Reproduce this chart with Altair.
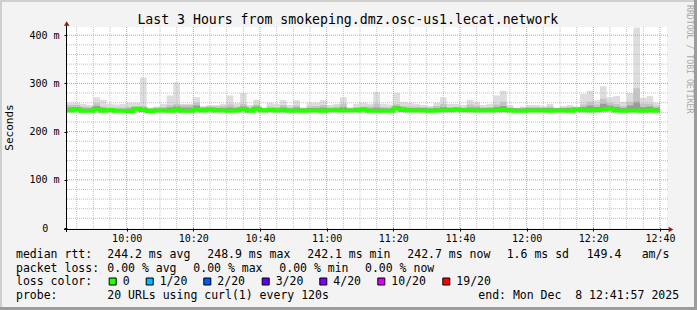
import altair as alt
import pandas as pd

FONT = "DejaVu Sans Mono"

# ---- data (minutes after midnight, 120 s smokeping steps) ----
t_first = 582          # 09:42, start of first step
step_min = 2
max_rtt = [260,260,257,255,271,266,257,256,257,260,260,312,250,252,257,275,302,257,257,271,252,255,255,
           257,275,259,280,255,266,250,260,257,265,255,265,250,260,260,265,255,257,271,250,258,260,
           258,282,258,256,280,262,260,258,255,253,260,271,257,257,255,266,262,255,257,275,285,255,250,
           252,255,255,253,257,250,253,255,252,278,285,265,294,271,274,262,280,416,270,274,260]
med_rtt = [244,247,243.5,243.5,247,243.5,245,243,243,242.5,247.5,245,242.5,244,244,243,245.5,243,243,245.5,244,246,244,
           244,243,244,247,243,247.5,244,245,244,244.5,243,244,243,244,244,243,244.5,244.5,244,244,244,245.5,
           243.5,243,243,243.5,248,245,244,244,244,243,244,244.5,244.5,245.5,244.5,244.5,244,244,244,244.5,245,244,243.5,
           243.5,244,244,244,243.5,244,244,243.5,246,244.5,244,244.5,245.5,247.5,244,243,244,244,243.5,244.5,243.5]
min_rtt = [241,242,240,240.5,242,240.5,241.5,240,240,239.5,242.5,241.5,239.5,241,241,240,242,240,240,242,241,242,241,
           241,240,241,243,240,243,241,241.5,241,241.5,240,241,240,241,241,240,241.5,241.5,241,241,241,242,
           240.5,240,240,240.5,244,242,241,241,241,240,241,241.5,241.5,242,241.5,241.5,241,241,241,241.5,242,241,240.5,
           240.5,241,241,241,240.5,241,241,240.5,242.5,241.5,241,241.5,242,243.5,241,240,241,240,240.5,241.5,240.5]
upper2 = [255,255,252,251,259,252,250,250,250,251,252,253,249,250,251,255,257,255,255,260,252,252,252,
          253,256,252,257,250,256,249,252,251,255,250,254,249,252,253,255,250,252,258,249,251,252,
          252,258,251,250,257,253,252,252,251,250,253,257,251,251,250,256,254,250,251,256,262,250,249,
          250,251,251,250,252,249,250,251,250,256,262,256,268,260,257,253,262,290,258,258,253]
upper3 = [250,251,248,248,253,249,248,247,247,248,251,250,247,248,248,250,252,250,250,254,249,250,249,
          249,250,249,252,248,252,248,249,248,250,248,250,248,249,249,250,248,249,251,248,249,250,
          248,250,248,248,253,250,249,249,249,248,249,251,249,250,249,250,250,249,249,251,253,249,248,
          248,249,249,249,249,248,249,249,250,251,254,251,258,254,251,249,254,262,251,252,249]

major_times = [600, 620, 640, 660, 680, 700, 720, 740, 760]
minor_times = [m for m in range(585, 762, 5) if m not in major_times]
major_vals = [0, 100, 200, 300, 400]
minor_vals = [v for v in range(20, 401, 20) if v % 100 != 0]

loss_labels = ["0", "1/20", "2/20", "3/20", "4/20", "10/20", "19/20"]
loss_colors = ["#26ff00", "#00b8ff", "#0059ff", "#5e00ff", "#7e00ff", "#dd00ff", "#ff0000"]

n = len(max_rtt)
starts = [t_first + step_min * k for k in range(n)]
smoke = pd.DataFrame({
    "t": starts + [starts[-1] + step_min],
    "lo": min_rtt + [min_rtt[-1]],
    "hi": max_rtt + [max_rtt[-1]],
    "med": med_rtt + [med_rtt[-1]],
    "q2": upper2 + [upper2[-1]],
    "q3": upper3 + [upper3[-1]],
})

# ---- layout ----
PL, PT, W, H = 67, 27, 600, 201
xs = alt.Scale(domain=[582.1, 762.1], nice=False, zero=False)
ys = alt.Scale(domain=[0, 417], nice=False)

xaxis = alt.Axis(values=major_times, title=None, grid=False, domain=False, tickSize=3,
                 tickColor="black", labelFont=FONT, labelFontSize=10, labelColor="black",
                 labelPadding=2, labelFlush=False, labelOverlap=False,
                 labelExpr="floor(datum.value/60) + ':' + (datum.value % 60 < 10 ? '0' : '') + (datum.value % 60)")
yaxis = alt.Axis(values=major_vals, title=None, grid=False, domain=False, tickSize=3,
                 tickColor="black", labelFont=FONT, labelFontSize=10, labelColor="black",
                 labelPadding=5, labelOverlap=False,
                 labelExpr="datum.value == 0 ? '' : datum.value + ' m'")

X = alt.X("t:Q", scale=xs, axis=xaxis)

base = alt.Chart(smoke)
outer = base.mark_area(interpolate="step-after", color="#dddddd", clip=True).encode(
    x=X, y=alt.Y("lo:Q", scale=ys, axis=yaxis), y2="hi:Q")
band2 = base.mark_area(interpolate="step-after", color="#c4c4c4", clip=True).encode(
    x=X, y=alt.Y("med:Q", scale=ys, axis=yaxis), y2="q2:Q")
band3 = base.mark_area(interpolate="step-after", color="#9a9a9a", clip=True).encode(
    x=X, y=alt.Y("med:Q", scale=ys, axis=yaxis), y2="q3:Q")

vminor = alt.Chart(pd.DataFrame({"t": minor_times})).mark_rule(
    color="#c0c0c0", strokeDash=[1, 1], strokeWidth=1).encode(x=X, y=alt.value(0), y2=alt.value(H))
hminor = alt.Chart(pd.DataFrame({"v": minor_vals})).mark_rule(
    color="#c0c0c0", strokeDash=[1, 1], strokeWidth=1).encode(
    y=alt.Y("v:Q", scale=ys, axis=yaxis), x=alt.value(0), x2=alt.value(W + 1))
vmajor = alt.Chart(pd.DataFrame({"t": major_times})).mark_rule(
    color="#f08a8a", strokeDash=[1, 1], strokeWidth=1).encode(x=X, y=alt.value(0), y2=alt.value(H))
hmajor = alt.Chart(pd.DataFrame({"v": [v for v in major_vals if v > 0]})).mark_rule(
    color="#f08a8a", strokeDash=[1, 1], strokeWidth=1).encode(
    y=alt.Y("v:Q", scale=ys, axis=yaxis), x=alt.value(0), x2=alt.value(W + 1))

median = base.mark_line(interpolate="step-after", color="#26ff00", strokeWidth=4,
                        strokeCap="butt", strokeJoin="miter", clip=True).encode(
    x=X, y=alt.Y("med:Q", scale=ys, axis=yaxis))

one = pd.DataFrame({"a": [0]})


def txt(s, x, y, size=11.5, align="left", color="black", angle=0, baseline="alphabetic"):
    return alt.Chart(one).mark_text(text=s, align=align, baseline=baseline, font=FONT,
                                    fontSize=size, color=color, angle=angle).encode(
        x=alt.value(x - PL), y=alt.value(y - PT))


def box(x1, y1, x2, y2, fill, stroke=None):
    kw = dict(fill=fill)
    if stroke:
        kw.update(stroke=stroke, strokeWidth=1)
    else:
        kw.update(strokeWidth=0)
    return alt.Chart(one).mark_rect(**kw).encode(
        x=alt.value(x1 - PL), x2=alt.value(x2 - PL), y=alt.value(y1 - PT), y2=alt.value(y2 - PT))


axis_lines = [
    alt.Chart(one).mark_rule(color="black", strokeWidth=1).encode(
        x=alt.value(-3), x2=alt.value(603), y=alt.value(H + 1.5)),
    alt.Chart(one).mark_rule(color="black", strokeWidth=1).encode(
        x=alt.value(-0.5), y=alt.value(-4), y2=alt.value(H + 4)),
    alt.Chart(one).mark_point(shape="triangle-up", size=30, filled=True, color="#8c1c1c", opacity=1).encode(
        x=alt.value(-0.3), y=alt.value(-3.5)),
    alt.Chart(one).mark_point(shape="triangle-right", size=30, filled=True, color="#8c1c1c", opacity=1).encode(
        x=alt.value(604), y=alt.value(H + 1.5)),
]

texts = [
    txt("Last 3 Hours from smokeping.dmz.osc-us1.lecat.network", 347.8, 24, size=13.2, align="center"),
    txt("Seconds", 10, 127.5, size=11, align="center", angle=270, baseline="middle"),
    txt("RRDTOOL / TOBI OETIKER", 688.5, 5, size=8.2, align="left", angle=90, baseline="middle", color="#a8a8a8"),
    txt("0", 48.2, 228.5, size=10, align="right", baseline="middle"),
    txt("median rtt:", 16, 257.5), txt("244.2 ms avg", 107.3, 257.5), txt("248.9 ms max", 207.3, 257.5),
    txt("242.1 ms min", 307.3, 257.5), txt("242.7 ms now", 407.3, 257.5), txt("1.6 ms sd", 506.7, 257.5),
    txt("149.4", 586.7, 257.5), txt("am/s", 641.7, 257.5),
    txt("packet loss:", 16, 271.5), txt("0.00 % avg", 107.3, 271.5), txt("0.00 % max", 193.3, 271.5),
    txt("0.00 % min", 279.3, 271.5), txt("0.00 % now", 365, 271.5),
    txt("loss color:", 16, 285),
    txt("probe:", 16, 299), txt("20 URLs using curl(1) every 120s", 107.3, 299),
    txt("end: Mon Dec\u00a0\u00a08 12:41:57 2025", 478.3, 299),
]

sq_x = [108.7, 145.7, 203.3, 261.7, 319.3, 377.3, 442.3]
legend = []
for sx, lab, col in zip(sq_x, loss_labels, loss_colors):
    legend.append(box(sx + 0.5, 278, sx + 7.5, 285, col, stroke="black"))
    legend.append(txt(lab, sx + 14, 285))

border = [
    box(0, 0, 697, 2, "#cfcfcf"),
    box(0, 0, 2, 310, "#cfcfcf"),
    box(0, 307, 697, 310, "#9c9c9c"),
    box(694, 0, 697, 310, "#9c9c9c"),
]

chart = alt.layer(
    outer, band2, band3, vminor, hminor, vmajor, hmajor, median,
    *axis_lines, *texts, *legend, *border
).properties(
    width=W, height=H,
    padding={"left": PL, "top": PT, "right": 697 - PL - W, "bottom": 310 - PT - H},
    autosize=alt.AutoSizeParams(type="none"),
    background="#f3f3f3",
).configure_view(fill="white", strokeWidth=0)

chart.save("out.html", embed_options={"renderer": "svg", "actions": False})
